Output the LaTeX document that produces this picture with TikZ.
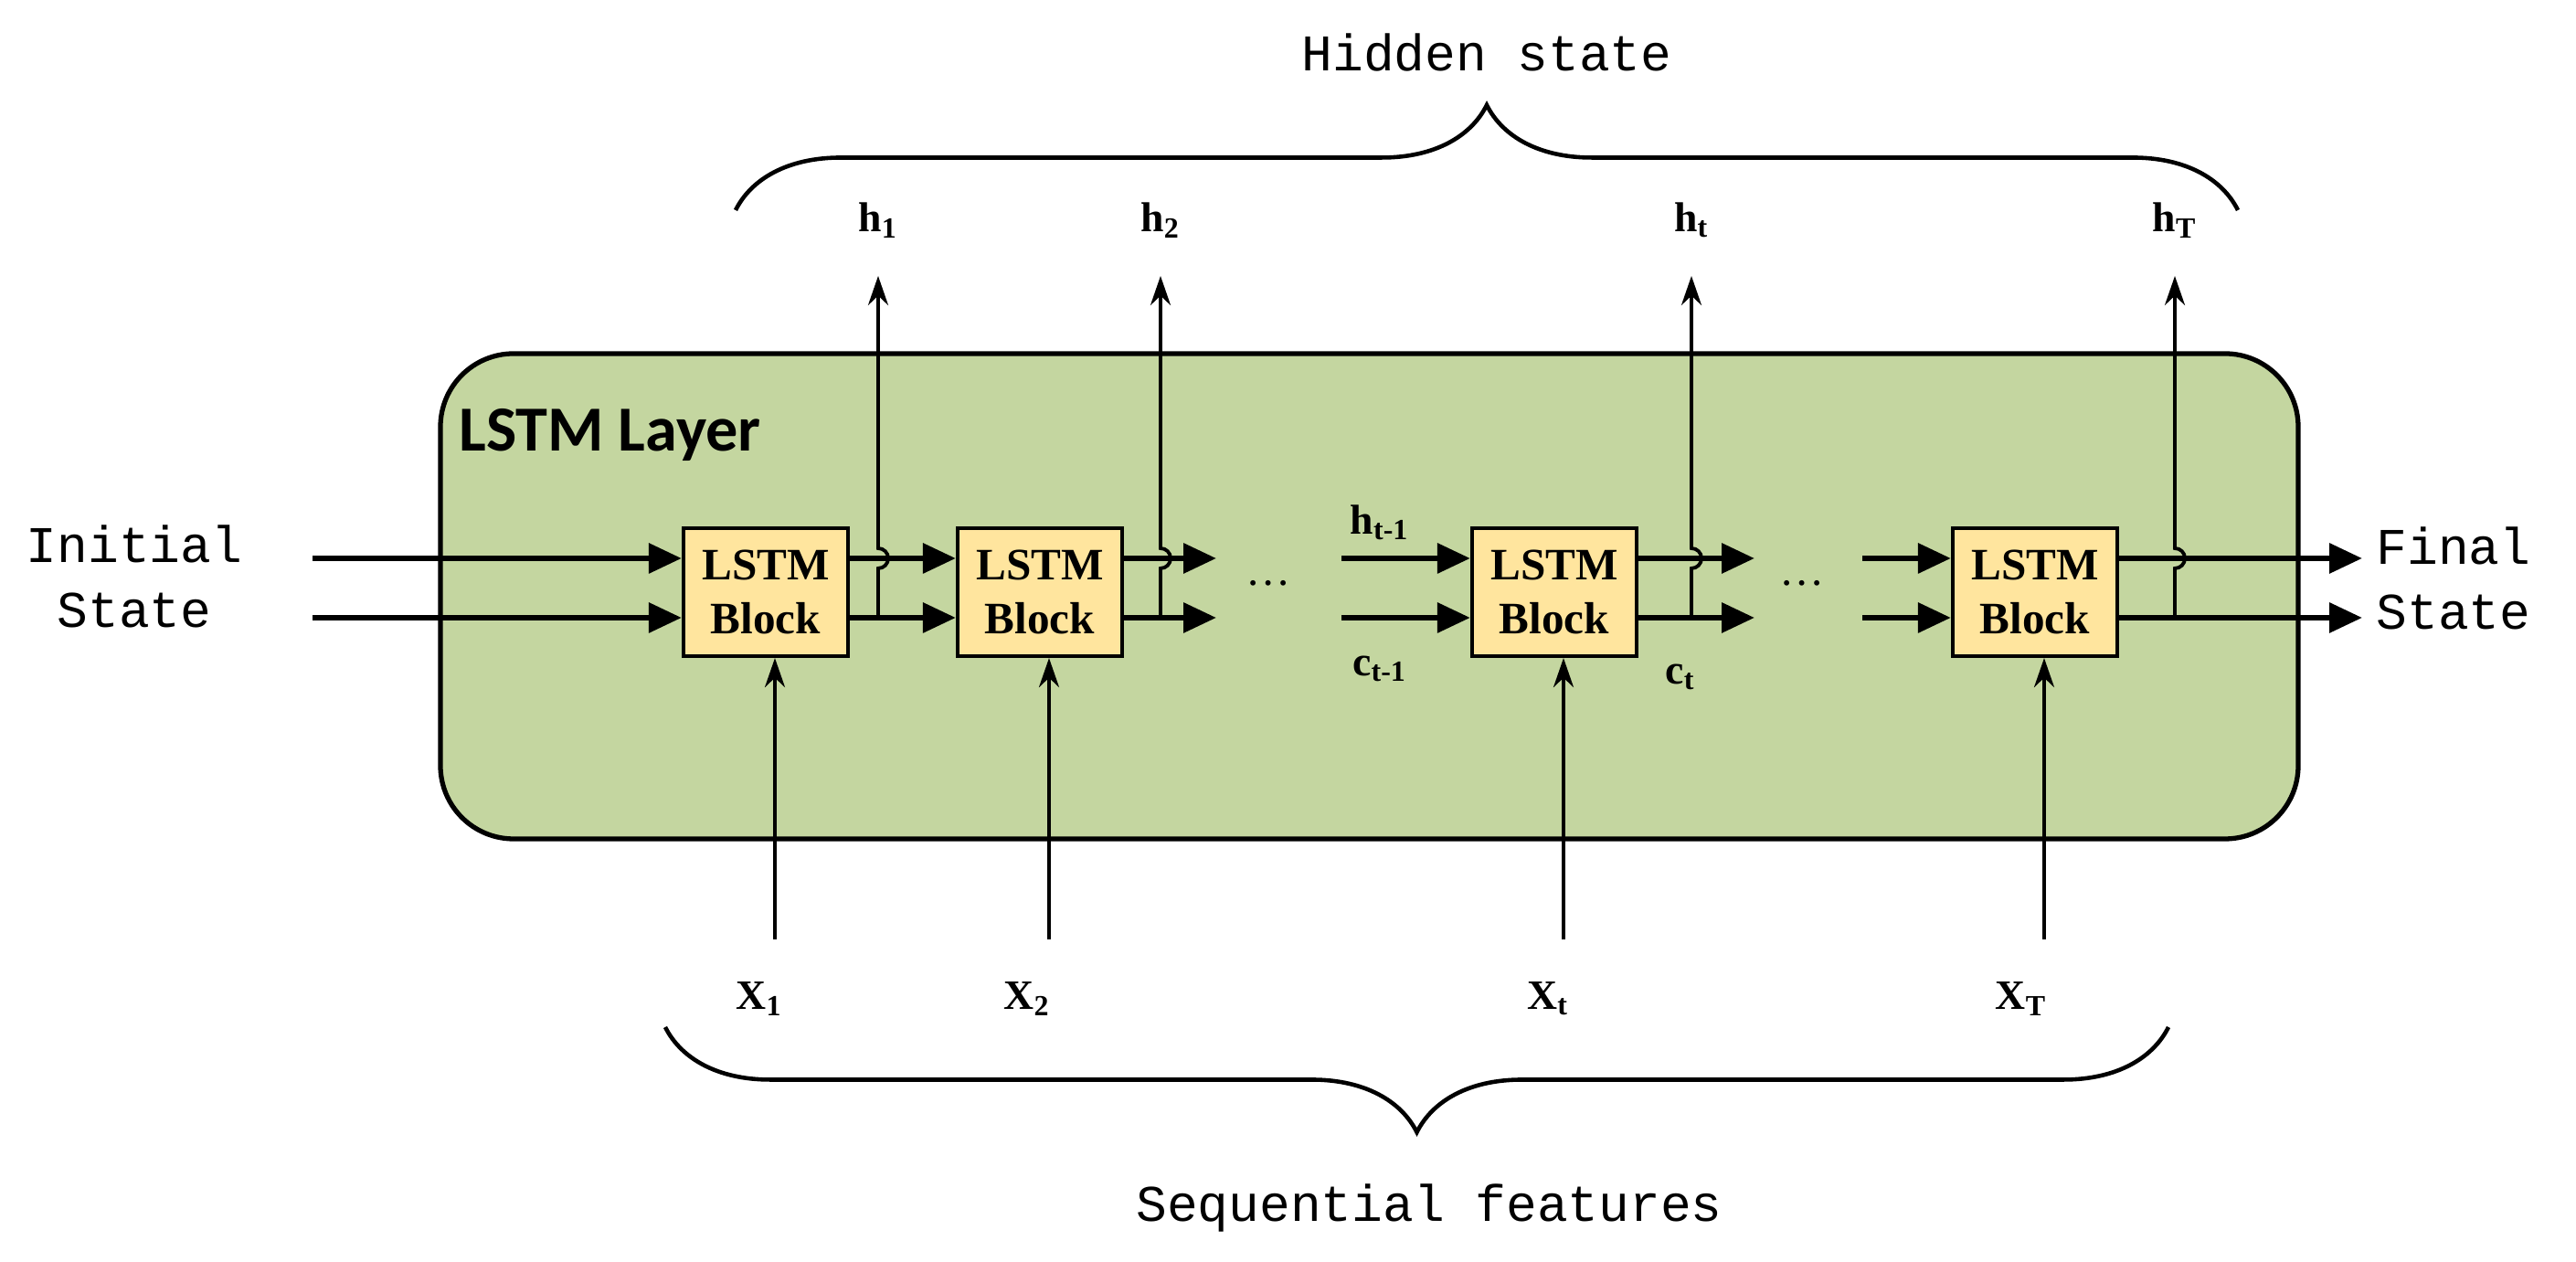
\documentclass[tikz,border=0pt]{standalone}
\usepackage{fontspec}
\setmainfont{Liberation Serif}
\newfontfamily\monofont{Liberation Mono}
\newfontfamily\sansfont{Carlito}
\usetikzlibrary{arrows.meta,decorations.pathreplacing}

\definecolor{layergreen}{HTML}{C4D6A0}
\definecolor{blockyellow}{HTML}{FFE59E}

\tikzset{
    block/.style={draw, line width=1.2pt, fill=blockyellow, minimum width=1.8cm, minimum height=1.40cm, align=center, font=\fontsize{14}{17}\selectfont\bfseries, inner sep=0pt},
    state/.style={line width=1.8pt, -{Triangle[length=0.36cm, width=0.32cm]}},
    feed/.style={line width=1.1pt, -{Stealth[length=0.32cm, width=0.22cm]}},
    lab/.style={font=\fontsize{13}{14}\selectfont\bfseries},
    mono/.style={font=\monofont\fontsize{16}{20}\selectfont, align=center},
    curly/.style={decorate, line width=1.3pt, decoration={brace, amplitude=1.15cm}}
}

\begin{document}
\begin{tikzpicture}
            \useasboundingbox (0,0) rectangle (28.19,13.81);

            \draw[line width=1.5pt, fill=layergreen, rounded corners=0.8cm] (4.82,4.63) rectangle (25.15,9.94);
            \node[font=\sansfont\fontsize{20}{22}\selectfont\bfseries, anchor=west] (layer) at (4.90,9.05) {LSTM Layer};

            \node[block] (b1) at (8.38,7.33) {LSTM\\Block};
            \node[block] (b2) at (11.38,7.33) {LSTM\\Block};
            \node[block] (bt) at (17.01,7.33) {LSTM\\Block};
            \node[block] (bT) at (22.27,7.33) {LSTM\\Block};

            \coordinate (in1) at (3.42,7.70);
            \coordinate (in2) at (3.42,7.05);
            \coordinate (e21) at (13.31,7.70);
            \coordinate (e22) at (13.31,7.05);
            \coordinate (s1) at (14.68,7.70);
            \coordinate (s2) at (14.68,7.05);
            \coordinate (et1) at (19.20,7.70);
            \coordinate (et2) at (19.20,7.05);
            \coordinate (sT1) at (20.38,7.70);
            \coordinate (sT2) at (20.38,7.05);
            \coordinate (f1) at (25.85,7.70);
            \coordinate (f2) at (25.85,7.05);

            % cell and hidden state lines
            \draw[state] (in1) -- (b1.west |- in1);
            \draw[state] (in2) -- (b1.west |- in2);
            \draw[state] (b1.east |- in1) -- (b2.west |- in1);
            \draw[state] (b1.east |- in2) -- (b2.west |- in2);
            \draw[state] (b2.east |- in1) -- (e21);
            \draw[state] (b2.east |- in2) -- (e22);
            \draw[state] (s1) -- (bt.west |- s1);
            \draw[state] (s2) -- (bt.west |- s2);
            \draw[state] (bt.east |- in1) -- (et1);
            \draw[state] (bt.east |- in2) -- (et2);
            \draw[state] (sT1) -- (bT.west |- sT1);
            \draw[state] (sT2) -- (bT.west |- sT2);
            \draw[state] (bT.east |- in1) -- (f1);
            \draw[state] (bT.east |- in2) -- (f2);

            % hidden outputs
            \foreach \x/\name/\sub in {9.61/h1/1, 12.70/h2/2, 18.51/ht/t, 23.80/hT/T} {
                \coordinate (\name-a) at (\x,7.05);
                \node[lab] (\name) at (\x,11.40) {h\textsubscript{\sub}};
                \draw[feed] (\name-a) -- (\x,7.59) arc (-90:90:0.11) -- (\x,10.79);
            }

            % inputs
            \foreach \x/\blk/\sub in {8.31/b1/1, 11.24/b2/2, 16.94/bt/t, 22.12/bT/T} {
                \node[lab] (x\sub) at (\x,2.88) {X\textsubscript{\sub}};
                \draw[feed] ([xshift=0.1cm]\blk.south |- 0,3.53) -- ([xshift=0.1cm]\blk.south);
            }

            \path (15.10,8.09) node[lab] {h\textsubscript{t-1}};
            \path (15.10,6.49) node[lab] {c\textsubscript{t-1}};
            \path (18.39,6.40) node[lab] {c\textsubscript{t}};
            \path (13.88,7.43) node[font=\fontsize{14}{14}\selectfont] {\dots};
            \path (19.72,7.43) node[font=\fontsize{14}{14}\selectfont] {\dots};

            \node[mono] (init) at (1.47,7.50) {Initial\\State};
            \node[mono] (final) at (26.85,7.48) {Final\\State};

            \draw[curly] (8.05,11.51) -- (24.49,11.51);
            \draw[curly] (23.73,2.57) -- (7.28,2.57);
            \node[mono] (hidden) at (16.27,13.23) {Hidden state};
            \node[mono] (seq) at (15.64,0.59) {Sequential features};
        \end{tikzpicture}
\end{document}
